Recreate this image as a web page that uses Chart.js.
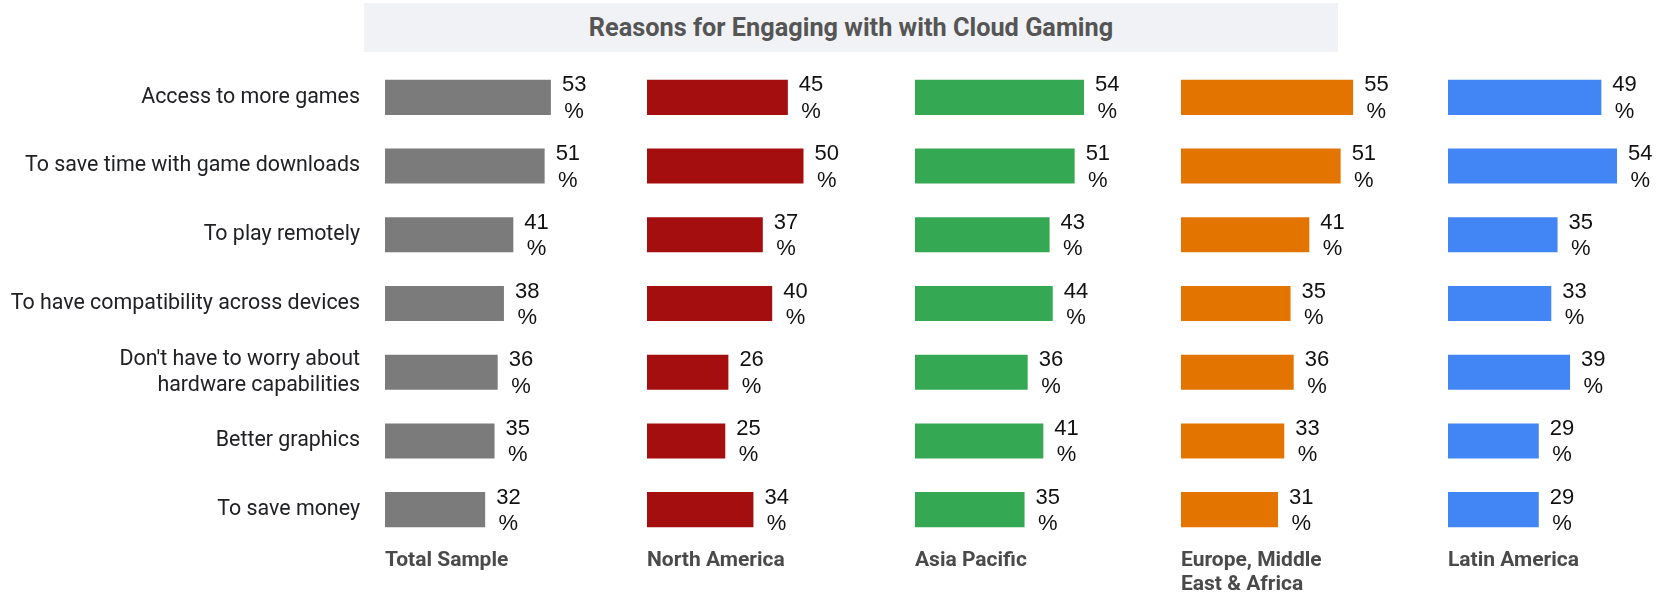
<!DOCTYPE html>
<html>
<head>
<meta charset="utf-8">
<title>Reasons for Engaging with with Cloud Gaming</title>
<script src="https://cdn.jsdelivr.net/npm/chart.js@4"></script>
<style>
    html, body { margin: 0; padding: 0; background: #fff; }
    #wrap { position: relative; width: 1669px; height: 595px; }
    #chartTitle {
        position: absolute; left: 364px; top: 3px; width: 974px; height: 49px;
        background: #f1f2f6; color: #555555;
        font: bold 25.3px Roboto, sans-serif; line-height: 49px; text-align: center;
    }
    #reasonsChart { position: absolute; left: 0; top: 0; }
</style>
</head>
<body>
<div id="wrap">
    <canvas id="reasonsChart"></canvas>
    <div id="chartTitle">Reasons for Engaging with with Cloud Gaming</div>
</div>
<script>
// Survey reasons (rows) and regional panels (columns)
const reasons = [
    'Access to more games',
    'To save time with game downloads',
    'To play remotely',
    'To have compatibility across devices',
    ["Don't have to worry about", 'hardware capabilities'],
    'Better graphics',
    'To save money'
];

const regions = ['Total Sample', 'North America', 'Asia Pacific', ['Europe, Middle', 'East & Africa'], 'Latin America'];

const totalSample   = [53, 51, 41, 38, 36, 35, 32];
const northAmerica  = [45, 50, 37, 40, 26, 25, 34];
const asiaPacific   = [54, 51, 43, 44, 36, 41, 35];
const europeMEA     = [55, 51, 41, 35, 36, 33, 31];
const latinAmerica  = [49, 54, 35, 33, 39, 29, 29];

const regionValues = [totalSample, northAmerica, asiaPacific, europeMEA, latinAmerica];
const regionColors = ['#7b7b7b', '#a50e0e', '#34a853', '#e37400', '#4285f4'];

// width of each panel in px, all panels share the same px-per-percent
const panelWidths = [262, 268, 266, 267, 221];
const pxPerPct = 3.13;

const scales = {};
regions.forEach((name, i) => {
    // single-line names get an empty second line so first lines sit level
    const text = Array.isArray(name) ? name : [name, ''];
    scales['x' + i] = {
        axis: 'x',
        type: 'linear',
        position: 'bottom',
        stack: 'panels',
        stackWeight: panelWidths[i],
        min: 0,
        max: panelWidths[i] / pxPerPct,
        grid: { display: false, drawTicks: false },
        border: { display: false },
        ticks: { display: false },
        title: {
            display: true,
            text: text,
            align: 'start',
            color: '#4a4a4a',
            font: { family: 'Roboto', size: 21, weight: 'bold', lineHeight: 24 / 21 },
            padding: { top: 5, bottom: -2 }
        }
    };
});
scales.y = {
    type: 'category',
    position: 'left',
    grid: { display: false, drawTicks: false },
    border: { display: false },
    ticks: {
        color: '#202124',
        padding: 25,
        font: { family: 'Roboto', size: 21.4, lineHeight: 1.22 }
    },
    afterFit: (scale) => { scale.width = 385; }
};

// "53" over "%" to the right of each bar
const valueLabels = {
    id: 'valueLabels',
    afterDatasetsDraw(chart) {
        const ctx = chart.ctx;
        ctx.save();
        ctx.font = '22px "Liberation Sans", Arial, sans-serif';
        ctx.fillStyle = '#111';
        ctx.textBaseline = 'middle';
        chart.data.datasets.forEach((ds, di) => {
            chart.getDatasetMeta(di).data.forEach((bar, i) => {
                const num = String(ds.data[i]);
                const w = ctx.measureText(num).width;
                const x = bar.x + 11;
                ctx.textAlign = 'left';
                ctx.fillText(num, x, bar.y - 12);
                ctx.textAlign = 'center';
                ctx.fillText('%', x + w / 2, bar.y + 14.5);
            });
        });
        ctx.restore();
    }
};

new Chart(document.getElementById('reasonsChart'), {
    type: 'bar',
    data: {
        labels: reasons,
        datasets: regionValues.map((vals, i) => ({
            label: Array.isArray(regions[i]) ? regions[i].join(' ') : regions[i],
            data: vals,
            xAxisID: 'x' + i,
            yAxisID: 'y',
            backgroundColor: regionColors[i],
            grouped: false,
            categoryPercentage: 1,
            barPercentage: 0.51
        }))
    },
    options: {
        indexAxis: 'y',
        responsive: true,
        maintainAspectRatio: false,
        animation: false,
        layout: { padding: { left: 0, right: 0, top: 63, bottom: 0 } },
        scales: scales,
        plugins: {
            legend: { display: false },
            tooltip: { enabled: false }
        }
    },
    plugins: [valueLabels]
});
</script>
</body>
</html>
